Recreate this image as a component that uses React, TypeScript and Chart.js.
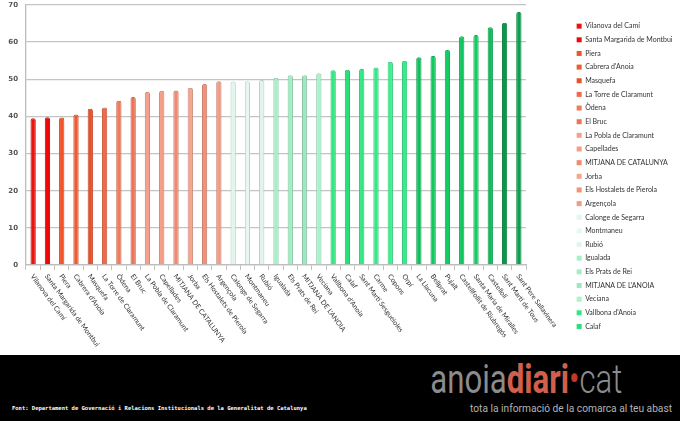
import React, { useEffect, useRef } from "react";
import { Chart, registerables } from "chart.js";

Chart.register(...registerables);

const categories = [
  "Vilanova del Camí",
  "Santa Margarida de Montbui",
  "Piera",
  "Cabrera d'Anoia",
  "Masquefa",
  "La Torre de Claramunt",
  "Òdena",
  "El Bruc",
  "La Pobla de Claramunt",
  "Capellades",
  "MITJANA DE CATALUNYA",
  "Jorba",
  "Els Hostalets de Pierola",
  "Argençola",
  "Calonge de Segarra",
  "Montmaneu",
  "Rubió",
  "Igualada",
  "Els Prats de Rei",
  "MITJANA DE L'ANOIA",
  "Veciana",
  "Vallbona d'Anoia",
  "Calaf",
  "Sant Martí Sesgueioles",
  "Carme",
  "Copons",
  "Orpí",
  "La Llacuna",
  "Bellprat",
  "Pujalt",
  "Castellfollit de Riubregós",
  "Santa Maria de Miralles",
  "Castellolí",
  "Sant Martí de Tous",
  "Sant Pere Sallavinera",
];

const values = [
  39.5, 39.8, 39.7, 40.5, 42.1, 42.4, 44.2, 45.2, 46.6, 46.9, 47.0, 47.7,
  48.7, 49.5, 49.4, 49.5, 49.8, 50.4, 51.1, 51.1, 51.6, 52.4, 52.6, 52.8,
  53.2, 54.7, 55.0, 55.9, 56.3, 57.9, 61.6, 61.9, 64.0, 65.2, 68.1,
];

const barColors = [
  "#e81410", "#ee0a0a", "#f05428", "#f05a30", "#e8522a", "#f06a4a", "#f07a5c",
  "#ee7256", "#f5a08c", "#f59c86", "#f08a72", "#f5a48e", "#f0927a", "#f29a84",
  "#e2f6ec", "#e6f7ef", "#e2f4eb", "#a6f0c8", "#a0eec4", "#9ee8c0", "#a8f2cc",
  "#30e880", "#28e07a", "#30e884", "#34ea88", "#3cf090", "#36ec8a", "#10c05c",
  "#12c860", "#14cc64", "#10c45e", "#14cc64", "#0ebc5a", "#0a9848", "#0aa04c",
];

const yTicks = [0, 10, 20, 30, 40, 50, 60, 70];
const LEGEND_COUNT = 23;

function darken(hex: string, f: number): string {
  const n = parseInt(hex.slice(1), 16);
  const r = Math.round(((n >> 16) & 255) * f);
  const g = Math.round(((n >> 8) & 255) * f);
  const b = Math.round((n & 255) * f);
  return `rgb(${r},${g},${b})`;
}

const xLabelPlugin = {
  id: "rotatedXLabels",
  afterDraw(chart: any) {
    const { ctx } = chart;
    const x = chart.scales.x;
    ctx.save();
    ctx.font = "7px Lato";
    ctx.fillStyle = "#333333";
    ctx.textAlign = "left";
    ctx.textBaseline = "middle";
    categories.forEach((c, i) => {
      const px = x.getPixelForValue(i);
      ctx.save();
      ctx.translate(px - 1, x.top + 10);
      ctx.rotate((54 * Math.PI) / 180);
      ctx.fillText(c, 0, 0);
      ctx.restore();
    });
    ctx.restore();
  },
};

export default function App() {
  const ref = useRef<HTMLCanvasElement | null>(null);

  useEffect(() => {
    if (!ref.current) return;
    const chart = new Chart(ref.current, {
      type: "bar",
      data: {
        labels: categories,
        datasets: [
          {
            data: values,
            backgroundColor: barColors,
            borderColor: barColors.map((c) => darken(c, 0.82)),
            borderWidth: 1,
            borderSkipped: "bottom",
            borderRadius: { topLeft: 2, topRight: 2, bottomLeft: 0, bottomRight: 0 },
            barPercentage: 0.37,
            categoryPercentage: 1,
          },
        ],
      },
      options: {
        responsive: false,
        animation: false,
        events: [],
        layout: { padding: { top: 5, left: 0, right: 0, bottom: 0 } },
        scales: {
          x: {
            offset: true,
            grid: {
              display: true,
              drawOnChartArea: false,
              drawTicks: true,
              tickLength: 5,
              color: "#c0c0c0",
              offset: true,
            },
            border: { display: true, color: "#bdbdbd", width: 1.3 },
            ticks: { display: false },
            afterFit: (s: any) => {
              s.height = 90;
              s.paddingLeft = 0;
              s.paddingRight = 0;
            },
          },
          y: {
            min: 0,
            max: 70,
            afterBuildTicks: (s: any) => {
              s.ticks = yTicks.map((v) => ({ value: v }));
            },
            grid: { color: "#c4c4c4", lineWidth: 1.3, drawTicks: false },
            border: { display: true, color: "#bdbdbd", width: 1.3 },
            ticks: {
              padding: 8,
              color: "#555555",
              font: { family: "DejaVu Sans", size: 7, weight: "bold" },
            },
            afterFit: (s: any) => {
              s.width = 26;
              s.paddingTop = 0;
              s.paddingBottom = 0;
            },
          },
          y2: {
            position: "right",
            display: true,
            grid: { display: false, drawTicks: false },
            border: { display: false },
            ticks: { display: false },
            afterFit: (s: any) => {
              s.width = 44;
              s.paddingTop = 0;
              s.paddingBottom = 0;
            },
          },
        },
        plugins: {
          tooltip: { enabled: false },
          legend: {
            display: true,
            position: "right",
            align: "start",
            maxWidth: 110,
            title: { display: true, text: "", font: { size: 11, lineHeight: 1 }, padding: 0 },
            labels: {
              boxWidth: 5,
              boxHeight: 5,
              padding: 6.65,
              color: "#333333",
              font: { family: "Lato", size: 7 },
              generateLabels: () =>
                categories.slice(0, LEGEND_COUNT).map((c, i) => ({
                  text: c,
                  fillStyle: barColors[i],
                  strokeStyle: barColors[i],
                  lineWidth: 0,
                  hidden: false,
                  index: i,
                  datasetIndex: 0,
                  fontColor: "#333333",
                })),
            },
          },
        },
      },
      plugins: [xLabelPlugin],
    } as any);
    return () => chart.destroy();
  }, []);

  return (
    <div style={{ position: "absolute", left: 0, top: 0, width: 680, height: 421, background: "#ffffff", overflow: "hidden" }}>
      <canvas ref={ref} width={680} height={355} style={{ display: "block", width: 680, height: 355 }} />
      <div style={{ position: "relative", width: 680, height: 66, background: "#000000" }}>
        <div
          style={{
            position: "absolute",
            left: 12,
            top: 51,
            fontFamily: "'DejaVu Sans Mono'",
            fontWeight: "bold",
            fontSize: 5.5,
            lineHeight: 1,
            color: "#ffffff",
            whiteSpace: "nowrap",
          }}
        >
          Font: Departament de Governació i Relacions Institucionals de la Generalitat de Catalunya
        </div>
        <div
          style={{
            position: "absolute",
            right: 58,
            top: 5,
            fontFamily: "Roboto",
            fontSize: 40,
            lineHeight: 1,
            whiteSpace: "nowrap",
            transform: "scaleX(0.78)",
            transformOrigin: "right top",
          }}
        >
          <span style={{ color: "#8c8c8c" }}>anoia</span>
          <span style={{ color: "#d0604c", fontWeight: "bold" }}>diari</span>
          <span style={{ color: "#c0392b" }}>•</span>
          <span style={{ color: "#8c8c8c", fontWeight: 300 }}>cat</span>
        </div>
        <div
          style={{
            position: "absolute",
            right: 8,
            top: 49,
            fontFamily: "Roboto",
            fontSize: 10.2,
            lineHeight: 1,
            color: "#b4b4b4",
            whiteSpace: "nowrap",
          }}
        >
          tota la informació de la comarca al teu abast
        </div>
      </div>
    </div>
  );
}
